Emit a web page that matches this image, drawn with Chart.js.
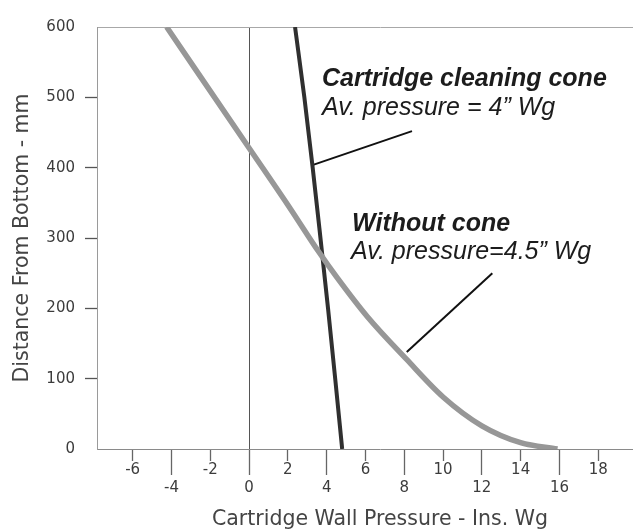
<!DOCTYPE html>
<html>
<head>
<meta charset="utf-8">
<script src="https://cdn.jsdelivr.net/npm/chart.js@4.4.0/dist/chart.umd.min.js"></script>
<style>
    html, body { margin: 0; padding: 0; background: #fff; overflow: hidden; }
    /* o gráfico original está cortado à direita, por isso a área passa um pouco da janela */
    #caixaGrafico { width: 663px; height: 532px; }
</style>
</head>
<body>
<div id="caixaGrafico"><canvas id="graficoPressao"></canvas></div>
<script>
// ---- dados

// sem cone (curva cinza)
const pressaoSemCone = [-4.25, 0, 2, 3.6, 4.5, 6.1, 8.1, 10, 12, 14, 15.9];
const distanciaSemCone = [600, 428, 347, 280, 245, 188, 128, 74, 33, 9, 0];

// com cone de limpeza (curva escura)
const pressaoComCone = [2.37, 2.85, 3.28, 3.68, 4.07, 4.44, 4.8];
const distanciaComCone = [600, 500, 400, 300, 200, 100, 0];

// linhas de chamada dos textos
const chamadaConeX = [3.3, 8.4];
const chamadaConeY = [404, 452];
const chamadaSemConeX = [8.13, 12.54];
const chamadaSemConeY = [138, 250];

// marcas dos eixos
const ticksX = [-6, -4, -2, 0, 2, 4, 6, 8, 10, 12, 14, 16, 18];
const ticksY = [0, 100, 200, 300, 400, 500, 600];

// ---- textos das anotações (posição em valores do gráfico)
const textosAnotacao = [
    { texto: 'Cartridge cleaning cone', x: 3.76, y: 516, fonte: 'italic bold 25px "Liberation Sans", Arial, sans-serif' },
    { texto: 'Av. pressure = 4\u201D Wg', x: 3.76, y: 475, fonte: 'italic 25px "Liberation Sans", Arial, sans-serif' },
    { texto: 'Without cone', x: 5.31, y: 310, fonte: 'italic bold 25px "Liberation Sans", Arial, sans-serif' },
    { texto: 'Av. pressure=4.5\u201D Wg', x: 5.26, y: 270, fonte: 'italic 25px "Liberation Sans", Arial, sans-serif' }
];

function juntarPontos(xs, ys) {
    return xs.map((v, i) => ({ x: v, y: ys[i] }));
}

// desenha os textos das anotações
const pluginTextos = {
    id: 'textosAnotacao',
    afterDatasetsDraw(chart) {
        const { ctx, scales: { x, y } } = chart;
        ctx.save();
        ctx.fillStyle = '#1c1c1c';
        ctx.textAlign = 'left';
        ctx.textBaseline = 'alphabetic';
        textosAnotacao.forEach(t => {
            ctx.font = t.fonte;
            ctx.fillText(t.texto, x.getPixelForValue(t.x), y.getPixelForValue(t.y));
        });
        ctx.restore();
    }
};

const fonteEixo = { family: '"DejaVu Sans", sans-serif', size: 15 };
const fonteTitulo = { family: '"DejaVu Sans", sans-serif', size: 20.5 };

const ctx = document.getElementById('graficoPressao').getContext('2d');

let graficoPressao = new Chart(ctx, {
    type: 'line',
    data: {
        datasets: [
            {
                label: 'Without cone',
                data: juntarPontos(pressaoSemCone, distanciaSemCone),
                borderColor: '#979797',
                borderWidth: 5.5,
                cubicInterpolationMode: 'monotone',
                pointRadius: 0,
                fill: false
            },
            {
                label: 'Cartridge cleaning cone',
                data: juntarPontos(pressaoComCone, distanciaComCone),
                borderColor: '#303030',
                borderWidth: 4,
                cubicInterpolationMode: 'monotone',
                pointRadius: 0,
                fill: false
            },
            {
                label: 'chamada cone',
                data: juntarPontos(chamadaConeX, chamadaConeY),
                borderColor: '#111111',
                borderWidth: 2,
                pointRadius: 0
            },
            {
                label: 'chamada sem cone',
                data: juntarPontos(chamadaSemConeX, chamadaSemConeY),
                borderColor: '#111111',
                borderWidth: 2,
                pointRadius: 0
            }
        ]
    },
    options: {
        responsive: true,
        maintainAspectRatio: false,
        animation: false,
        layout: { padding: { top: 27, right: 0, bottom: 0, left: 0 } },
        plugins: {
            legend: { display: false },
            tooltip: { enabled: false }
        },
        scales: {
            x: {
                type: 'linear',
                min: -7.84,
                max: 21.34,
                afterBuildTicks: s => { s.ticks = ticksX.map(v => ({ value: v })); },
                afterFit: s => { s.height = 83; },
                border: { color: '#8a8a8a', width: 1 },
                grid: {
                    // só a linha vertical do zero aparece dentro do gráfico
                    color: c => (c.tick && c.tick.value === 0) ? '#555555' : 'rgba(0,0,0,0)',
                    lineWidth: 1,
                    tickLength: 26,
                    tickColor: '#666666',
                    tickWidth: 1.3,
                    tickBorderDash: c => (c.tick && c.tick.value % 4 === 0) ? [] : [11, 40]
                },
                ticks: {
                    autoSkip: false,
                    maxRotation: 0,
                    padding: -14,
                    color: '#3c3c3c',
                    font: fonteEixo,
                    // rótulos em duas linhas alternadas
                    callback: v => v % 4 === 0 ? ['', String(v)] : String(v)
                },
                title: {
                    display: true,
                    text: 'Cartridge Wall Pressure - Ins. Wg',
                    color: '#444444',
                    font: fonteTitulo,
                    padding: { top: 0, bottom: 0 }
                }
            },
            y: {
                min: 0,
                max: 600,
                afterBuildTicks: s => { s.ticks = ticksY.map(v => ({ value: v })); },
                afterFit: s => { s.width = 97; },
                border: { color: '#9a9a9a', width: 1 },
                grid: {
                    color: c => (c.tick && c.tick.value === 600) ? '#a8a8a8' : 'rgba(0,0,0,0)',
                    tickLength: 12,
                    tickWidth: 1.3,
                    tickColor: c => (c.tick && c.tick.value > 0 && c.tick.value < 600) ? '#555555' : 'rgba(0,0,0,0)'
                },
                ticks: {
                    padding: 10,
                    color: '#3c3c3c',
                    font: fonteEixo
                },
                title: {
                    display: true,
                    text: 'Distance From Bottom - mm',
                    color: '#444444',
                    font: fonteTitulo,
                    padding: { top: 10, bottom: 0 }
                }
            }
        }
    },
    plugins: [pluginTextos]
});
</script>
</body>
</html>
